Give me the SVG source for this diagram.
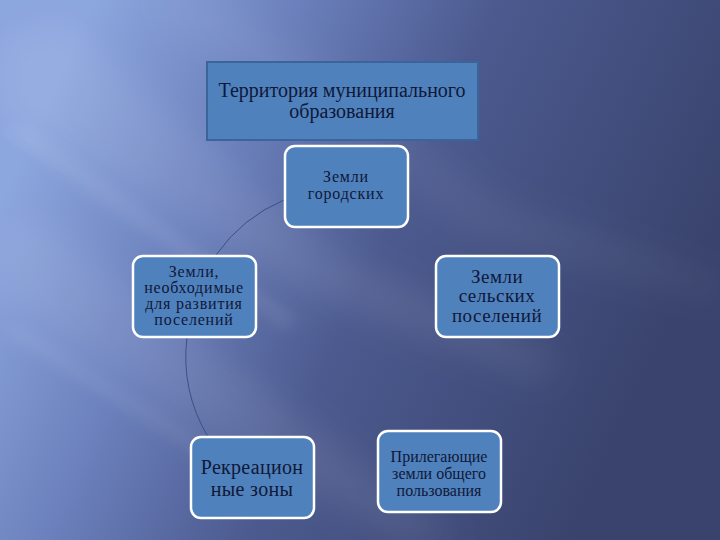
<svg xmlns="http://www.w3.org/2000/svg" width="720" height="540" viewBox="0 0 720 540">
<defs>
<linearGradient id="bg" x1="20" y1="160" x2="620" y2="440" gradientUnits="userSpaceOnUse">
<stop offset="0" stop-color="#8ca6de"/>
<stop offset="0.28" stop-color="#6b80bc"/>
<stop offset="0.55" stop-color="#4c5a8f"/>
<stop offset="1" stop-color="#39436d"/>
</linearGradient>
<filter id="blur" x="-20%" y="-20%" width="140%" height="140%"><feGaussianBlur stdDeviation="16"/></filter>
<filter id="blur2" x="-20%" y="-20%" width="140%" height="140%"><feGaussianBlur stdDeviation="7"/></filter>
<style>
.box{fill:#4f81bd;stroke:#ffffff;stroke-width:2.5}
.t{font-family:'Liberation Serif','DejaVu Serif',serif;fill:#101838;text-anchor:middle}
.conn{fill:none;stroke:#3c4f86;stroke-width:1}
</style>
</defs>
<rect width="720" height="540" fill="url(#bg)"/>
<g filter="url(#blur)" fill="#ffffff">
<polygon points="0,40 60,20 330,250 560,360 540,380 300,290 0,110" opacity="0.08"/>
<polygon points="0,230 40,220 280,400 460,540 400,540 220,440 0,300" opacity="0.08"/>
<polygon points="140,0 230,0 500,200 720,280 720,300 480,240" opacity="0.05"/>
</g>
<g filter="url(#blur2)" fill="#ffffff">
<polygon points="0,130 25,125 300,320 285,330" opacity="0.08"/>
<polygon points="0,330 20,325 250,470 235,478" opacity="0.07"/>
</g>
<g id="connectors">
<path class="conn" d="M284,200 A159,159 0 0 0 216,255"/>
<path class="conn" d="M187,337 A159,159 0 0 0 208,437"/>
</g>
<g id="territory">
<rect x="207" y="62" width="271" height="78" fill="#4f81bd" stroke="#3b649c" stroke-width="2"/>
<text class="t" x="342" y="97" font-size="20">Территория муниципального</text>
<text class="t" x="342" y="118" font-size="20">образования</text>
</g>
<g id="gorodskih">
<rect class="box" x="285" y="146" width="123" height="81" rx="10"/>
<text class="t" x="346" y="182" font-size="16" letter-spacing="0.8">Земли</text>
<text class="t" x="346" y="199" font-size="16" letter-spacing="0.8">городских</text>
</g>
<g id="razvitie">
<rect class="box" x="133" y="256" width="123" height="81" rx="10"/>
<text class="t" x="194" y="277" font-size="16" letter-spacing="0.8">Земли,</text>
<text class="t" x="194" y="293" font-size="16" letter-spacing="0.8">необходимые</text>
<text class="t" x="194" y="309" font-size="16" letter-spacing="0.8">для развития</text>
<text class="t" x="194" y="325" font-size="16" letter-spacing="0.8">поселений</text>
</g>
<g id="selskih">
<rect class="box" x="436" y="256" width="123" height="81" rx="10"/>
<text class="t" x="497" y="283" font-size="19" letter-spacing="0.5">Земли</text>
<text class="t" x="497" y="302" font-size="19" letter-spacing="0.5">сельских</text>
<text class="t" x="497" y="322" font-size="19" letter-spacing="0.5">поселений</text>
</g>
<g id="rekreacion">
<rect class="box" x="191" y="437" width="123" height="81" rx="10"/>
<text class="t" x="252" y="474" font-size="20" letter-spacing="0.3">Рекреацион</text>
<text class="t" x="252" y="496" font-size="20" letter-spacing="0.3">ные зоны</text>
</g>
<g id="prilegayushie">
<rect class="box" x="378" y="431" width="123" height="81" rx="10"/>
<text class="t" x="439" y="462" font-size="16">Прилегающие</text>
<text class="t" x="439" y="479" font-size="16">земли общего</text>
<text class="t" x="439" y="496" font-size="16">пользования</text>
</g>
</svg>
